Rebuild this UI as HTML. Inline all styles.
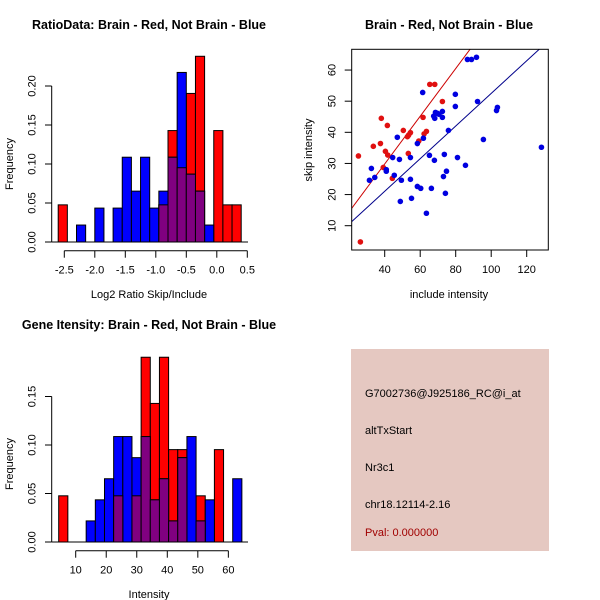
<!DOCTYPE html>
<html><head><meta charset="utf-8"><style>
html,body{margin:0;padding:0;background:#fff;width:600px;height:600px;overflow:hidden}
svg{display:block;font-family:"Liberation Sans",sans-serif}
</style></head><body>
<svg id="chart" width="600" height="600" viewBox="0 0 600 600">
<rect x="351" y="349" width="198" height="202" fill="#e5c8c1"/>
<g font-size="11" fill="#000">
<text x="365" y="397">G7002736@J925186_RC@i_at</text>
<text x="365" y="434">altTxStart</text>
<text x="365" y="471">Nr3c1</text>
<text x="365" y="508">chr18.12114-2.16</text>
<text x="365" y="536" fill="#a00000">Pval: 0.000000</text>
</g>
</svg>
<script>
// ---- Histogram 1 data (RatioData) ----
const h1Start = -2.6, h1Width = 0.15;
const h1Red = [1,0,0,0,0,0,0,0,0,0,0,1,3,2,4,5,0,3,1,1].map(c=>c/21);
const h1Blue = [0,0,1,0,2,0,2,5,3,5,2,3,5,10,4,3,1,0,0,0].map(c=>c/46);
const h1XTicks = [-2.5,-2.0,-1.5,-1.0,-0.5,0.0,0.5];
const h1YTicks = [0,0.05,0.10,0.15,0.20];
// ---- Histogram 2 data (Gene Intensity) ----
const h2Start = 4.43, h2Width = 3;
const h2Red = [1,0,0,0,0,0,1,0,1,4,3,4,2,2,0,1,0,2,0,0].map(c=>c/21);
const h2Blue = [0,0,0,1,2,3,5,5,4,5,2,3,1,4,5,1,2,0,0,3].map(c=>c/46);
const h2XTicks = [10,20,30,40,50,60];
const h2YTicks = [0,0.05,0.10,0.15];
// ---- Scatter data ----
const redX = [25.2,26.3,33.6,38.1,37.6,39.2,40.4,41.5,41.7,44.3,50.5,52.8,53.5,54.5,53.3,59.2,61.6,62.2,63.5,65.4,68.2,72.5];
const redY = [32.4,4.8,35.5,44.5,36.4,28.7,33.9,42.2,32.7,25.2,40.6,38.6,39.1,39.9,33.2,37.2,44.8,39.5,40.3,55.4,55.4,49.9];
const blueX = [31.4,32.5,34.4,40.9,40.9,44.5,45.4,47.1,48.3,48.8,49.4,54.5,54.5,55.1,58.4,58.4,60.3,61.4,61.8,63.5,65.2,66.3,68.0,67.6,68.2,68.6,69.7,70.6,72.5,72.5,73.1,73.6,74.2,74.8,75.9,79.8,79.8,81.0,85.5,86.6,88.9,91.7,92.3,95.6,103.0,103.5,128.3];
const blueY = [24.6,28.4,25.5,28.0,27.5,31.9,26.2,38.4,31.3,17.8,24.6,24.9,31.9,18.8,36.4,22.6,22.0,52.8,38.1,14.0,32.6,22.0,31.0,45.2,44.5,46.4,46.1,45.8,46.7,44.8,25.8,32.9,20.4,27.5,40.6,52.2,48.3,31.9,29.4,63.4,63.4,64.1,49.9,37.7,47.0,48.0,35.2];
const redFit = [-0.8, 0.766];   // intercept, slope
const blueFit = [0.09, 0.524];
const scXTicks = [40,60,80,100,120];
const scYTicks = [10,20,30,40,50,60];

const NS="http://www.w3.org/2000/svg";
const svg=document.getElementById('chart');
function mk(tag,attrs,parent){const e=document.createElementNS(NS,tag);for(const k in attrs)e.setAttribute(k,attrs[k]);(parent||svg).appendChild(e);return e;}
function txt(s,attrs,parent){const e=mk('text',attrs,parent);e.textContent=s;return e;}

function hist(cfg){
  const g=mk('g',{});
  
  
  const X=v=>cfg.x0px+(v-cfg.x0)*cfg.xs;
  const Y=v=>cfg.base-v*cfg.ys;
  const n=cfg.red.length;
  for(let layer=0;layer<3;layer++){
    for(let i=0;i<n;i++){
      const r=cfg.red[i],b=cfg.blue[i];
      let v,col,nm;
      if(layer==0){v=r;col='#ff0000';nm='bar-red';}
      else if(layer==1){v=b;col='#0000ff';nm='bar-blue';}
      else {v=Math.min(r,b);col='#800080';nm='bar-overlap';}
      if(v<=0)continue;
      const x1=X(cfg.start+i*cfg.w),x2=X(cfg.start+(i+1)*cfg.w);
      const rc=mk('rect',{x:x1,y:Y(v),width:x2-x1,height:v*cfg.ys,fill:col,stroke:'#000','stroke-width':1},g);
      
      
    }
  }
  // baseline
  mk('line',{x1:51.7,x2:248,y1:cfg.base,y2:cfg.base,stroke:'#000'},g);
  // y axis
  const ya=mk('g',{},g);
  
  
  const yt=cfg.yticks;
  mk('line',{x1:51.7,x2:51.7,y1:Y(yt[0]),y2:Y(yt[yt.length-1]),stroke:'#000'},ya);
  yt.forEach(t=>{mk('line',{x1:45,x2:51.7,y1:Y(t),y2:Y(t),stroke:'#000'},ya);
    txt(t.toFixed(2),{x:0,y:0,'font-size':11,'text-anchor':'middle',transform:`translate(35.5,${Y(t)}) rotate(-90)`},ya);});
  // x axis
  const xa=mk('g',{},g);
  
  
  const xt=cfg.xticks;
  const ay=cfg.base+8.7;
  mk('line',{x1:X(xt[0]),x2:X(xt[xt.length-1]),y1:ay,y2:ay,stroke:'#000'},xa);
  xt.forEach(t=>{mk('line',{x1:X(t),x2:X(t),y1:ay,y2:ay+7,stroke:'#000'},xa);
    txt(cfg.xfmt(t),{x:X(t),y:ay+23,'font-size':11,'text-anchor':'middle'},xa);});
  const ti=txt(cfg.title,{x:149,y:cfg.base-213,'font-size':12.5,'font-weight':'bold','text-anchor':'middle'},g);
  
  
  const xl=txt(cfg.xlabel,{x:149,y:cfg.base+56,'font-size':11,'text-anchor':'middle'},g);
  
  
  const yl=txt('Frequency',{x:0,y:0,'font-size':11,'text-anchor':'middle',transform:`translate(13,${cfg.base-78}) rotate(-90)`},g);
  
  
}
hist({name:'ratio-histogram',red:h1Red,blue:h1Blue,start:h1Start,w:h1Width,x0:-2.5,x0px:64.3,xs:61,base:242,ys:780,
  xticks:h1XTicks,yticks:h1YTicks,xfmt:t=>t.toFixed(1),title:'RatioData: Brain - Red, Not Brain - Blue',xlabel:'Log2 Ratio Skip/Include'});
hist({name:'intensity-histogram',red:h2Red,blue:h2Blue,start:h2Start,w:h2Width,x0:10,x0px:75.7,xs:3.053,base:542,ys:970,
  xticks:h2XTicks,yticks:h2YTicks,xfmt:t=>String(t),title:'Gene Itensity: Brain - Red, Not Brain - Blue',xlabel:'Intensity'});

// scatter
(function(){
  const g=mk('g',{});
  
  
  const X=v=>384.7+(v-40)*1.775;
  const Y=v=>225.7-(v-10)*3.113;
  const L=351.7,R=548.3,T=49.3,B=250;
  const cp=mk('clipPath',{id:'scclip'},g);
  mk('rect',{x:L,y:T,width:R-L,height:B-T},cp);
  const xmin=(L-384.7)/1.775+40,xmax=(R-384.7)/1.775+40;
  [[redFit,'#cc0000','fit-line-red'],[blueFit,'#00008b','fit-line-blue']].forEach(([f,c,n])=>{
    const ln=mk('line',{x1:X(xmin),y1:Y(f[0]+f[1]*xmin),x2:X(xmax),y2:Y(f[0]+f[1]*xmax),stroke:c,'stroke-width':1,'clip-path':'url(#scclip)'},g);
    
    
  });
  redX.forEach((x,i)=>{const c=mk('circle',{cx:X(x),cy:Y(redY[i]),r:2.8,fill:'#e01010'},g);
    
    });
  blueX.forEach((x,i)=>{const c=mk('circle',{cx:X(x),cy:Y(blueY[i]),r:2.8,fill:'#0000e0'},g);
    
    });
  mk('rect',{x:L,y:T,width:R-L,height:B-T,fill:'none',stroke:'#000'},g);
  const xa=mk('g',{},g);
  
  
  scXTicks.forEach(t=>{mk('line',{x1:X(t),x2:X(t),y1:B,y2:B+7,stroke:'#000'},xa);
    txt(String(t),{x:X(t),y:273,'font-size':11,'text-anchor':'middle'},xa);});
  const ya=mk('g',{},g);
  
  
  scYTicks.forEach(t=>{mk('line',{x1:L-7,x2:L,y1:Y(t),y2:Y(t),stroke:'#000'},ya);
    txt(String(t),{x:0,y:0,'font-size':11,'text-anchor':'middle',transform:`translate(335.5,${Y(t)}) rotate(-90)`},ya);});
  const ti=txt('Brain - Red, Not Brain - Blue',{x:449,y:29,'font-size':12.5,'font-weight':'bold','text-anchor':'middle'},g);
  
  
  const xl=txt('include intensity',{x:449,y:298,'font-size':11,'text-anchor':'middle'},g);
  
  
  const yl=txt('skip intensity',{x:0,y:0,'font-size':11,'text-anchor':'middle',transform:'translate(312,150) rotate(-90)'},g);
  
  
})();
</script>
</body></html>
